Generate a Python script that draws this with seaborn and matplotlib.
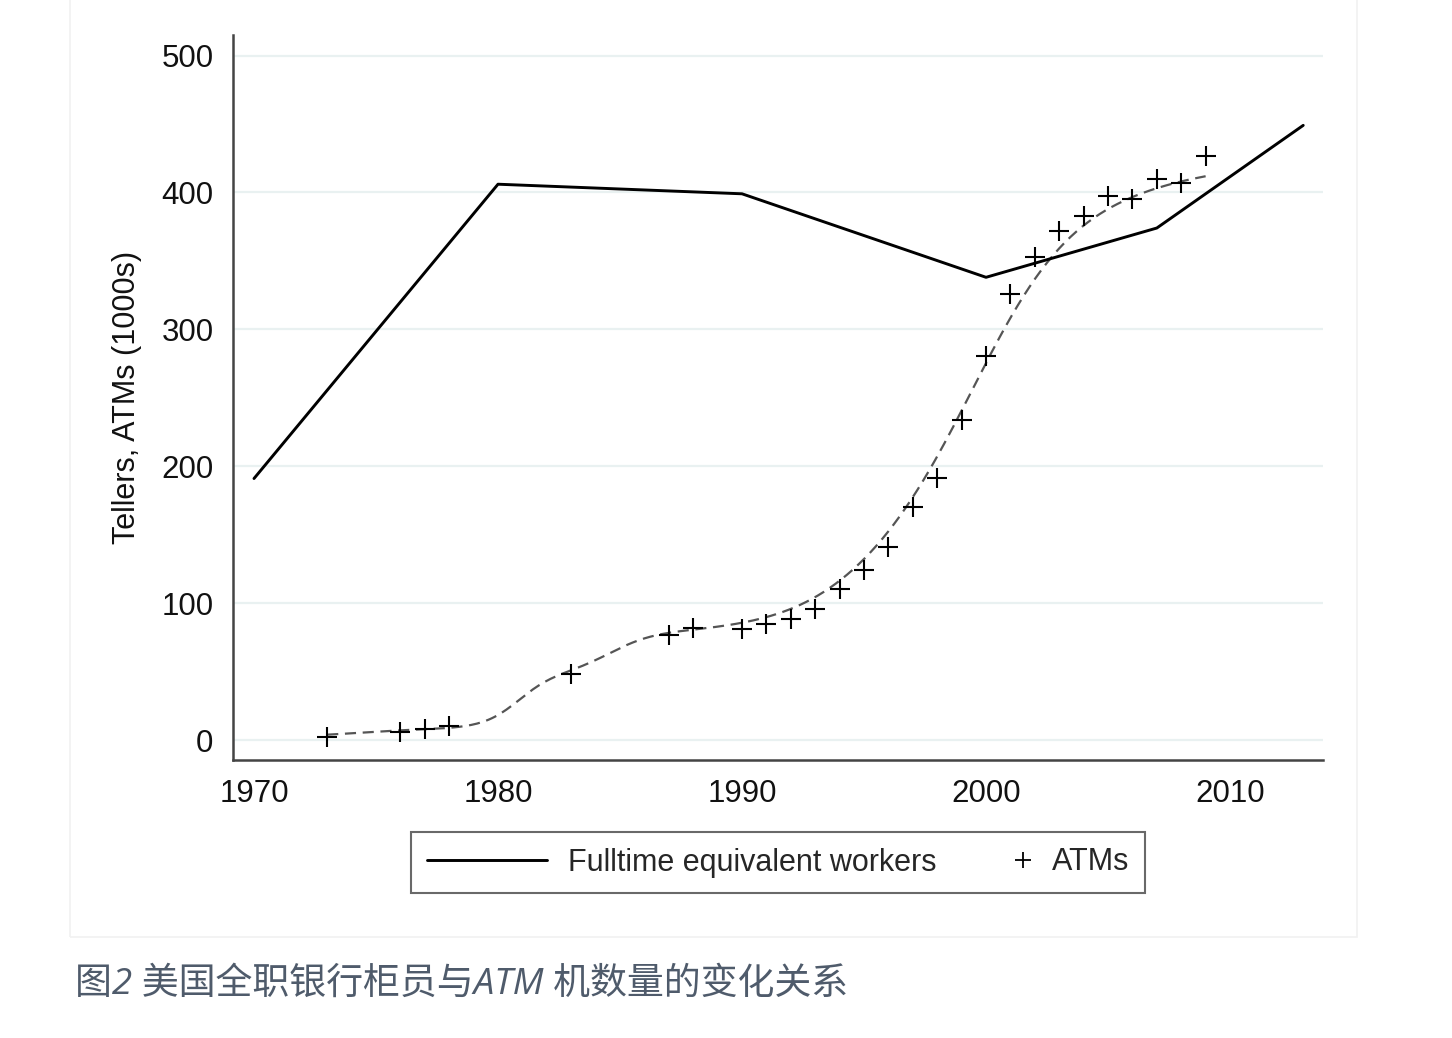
import numpy as np
import pandas as pd
import matplotlib
matplotlib.use("Agg")
import matplotlib.pyplot as plt
from matplotlib.lines import Line2D
from matplotlib.patches import Rectangle
from matplotlib.legend_handler import HandlerBase
import seaborn as sns

# ---- data ----
worker_years = [1970, 1980, 1990, 2000, 2007, 2013]
worker_values = [191, 406, 399, 338, 374, 449]

atm_years = [1973, 1976, 1977, 1978, 1983, 1987, 1988, 1990, 1991, 1992, 1993,
             1994, 1995, 1996, 1997, 1998, 1999, 2000, 2001, 2002, 2003, 2004,
             2005, 2006, 2007, 2008, 2009]
atm_values = [2.5, 5.7, 7.9, 10.3, 48.4, 76.9, 81.6, 81.0, 84.8, 88.5, 95.8,
              110.1, 124.3, 140.8, 170.0, 191.3, 233.4, 280.7, 325.8, 352.6, 372.0, 383.0,
              397.1, 395.5, 410.0, 407.0, 426.4]

x_ticks = [1970, 1980, 1990, 2000, 2010]
y_ticks = [0, 100, 200, 300, 400, 500]

ylabel = "Tellers, ATMs (1000s)"
legend_labels = ["Fulltime equivalent workers", "ATMs"]
caption = "图2 美国全职银行柜员与ATM 机数量的变化关系"

# kernel smoother of the ATM series (local constant, gaussian kernel)
ax_arr = np.asarray(atm_years, float)
ay_arr = np.asarray(atm_values, float)
grid = np.linspace(ax_arr.min(), ax_arr.max(), 300)
bw = 2.0
w = np.exp(-0.5 * ((grid[:, None] - ax_arr[None, :]) / bw) ** 2)
smooth = (w * ay_arr[None, :]).sum(1) / w.sum(1)

workers = pd.DataFrame({"year": worker_years, "value": worker_values})
atms = pd.DataFrame({"year": atm_years, "value": atm_values})
fit = pd.DataFrame({"year": grid, "value": smooth})

sns.set_theme(style="white")
plt.rcParams["font.family"] = ["Liberation Sans", "DejaVu Sans"]

W, H = 1452, 1038
fig = plt.figure(figsize=(W / 100, H / 100), dpi=100)
fig.patch.set_facecolor("white")
ax = fig.add_axes([233 / W, 1 - 760 / H, (1323 - 233) / W, (760 - 35) / H])

# faint outer panel frame
fig.add_artist(Rectangle((70 / W, 1 - 937 / H), (1357 - 70) / W, 937 / H + 0.01,
                         transform=fig.transFigure, fill=False,
                         edgecolor="#f1f1f1", linewidth=1.2, zorder=0))

for yv in y_ticks:
    ax.axhline(yv, color="#e9f1f1", linewidth=1.6, zorder=0)

sns.lineplot(data=fit, x="year", y="value", ax=ax, color="#555555",
             linewidth=1.6, linestyle=(0, (5, 3)), zorder=2)
sns.lineplot(data=workers, x="year", y="value", ax=ax, color="black",
             linewidth=2.1, zorder=3)
sns.scatterplot(data=atms, x="year", y="value", ax=ax, marker="+", s=190,
                color="black", linewidth=1.5, zorder=4)

ax.set_xlim(1969.14, 2013.81)
ax.set_ylim(-14.6, 515)
ax.set_xticks(x_ticks)
ax.set_yticks(y_ticks)
ax.set_xticklabels([str(t) for t in x_ticks])
ax.set_yticklabels([str(t) for t in y_ticks])
ax.set_xlabel("")
ax.set_ylabel(ylabel, fontsize=22, labelpad=14, color="#111111")

for s in ["top", "right"]:
    ax.spines[s].set_visible(False)
for s in ["left", "bottom"]:
    ax.spines[s].set_color("#444444")
    ax.spines[s].set_linewidth(1.8)
ax.tick_params(axis="both", which="major", direction="out", length=9,
               width=1.2, color="#444444", labelsize=22.5, labelcolor="#111111")
ax.tick_params(axis="y", pad=5)
ax.tick_params(axis="x", pad=5)


class RightMarkerHandler(HandlerBase):
    def create_artists(self, legend, orig_handle, xdescent, ydescent,
                       width, height, fontsize, trans):
        x = width - xdescent - 0.25 * fontsize
        y = height / 2.0 - ydescent
        ln = Line2D([x], [y], marker="+", linestyle="", color="black",
                    markersize=11, markeredgewidth=1.3)
        ln.set_transform(trans)
        return [ln]


h_workers = Line2D([], [], color="black", linewidth=2.1)
h_atm = Line2D([], [], color="black", marker="+", linestyle="")
leg = fig.legend([h_workers, h_atm], legend_labels, loc="center",
                 bbox_to_anchor=(778 / W, 1 - 862.5 / H), ncol=2,
                 frameon=True, fancybox=False, fontsize=22,
                 handlelength=3.93, handletextpad=0.7, columnspacing=-0.85,
                 borderpad=0.5, handler_map={h_atm: RightMarkerHandler()})
leg.get_frame().set_edgecolor("#444444")
leg.get_frame().set_linewidth(1.5)

fig.text(75 / W, 1 - 985 / H, caption, fontsize=26.6, style="italic",
         color="#4f5b6b", va="center", ha="left",
         family=["Open Sans", "Noto Sans CJK SC", "DejaVu Sans"])

fig.savefig("out.png", dpi=100, facecolor="white")
